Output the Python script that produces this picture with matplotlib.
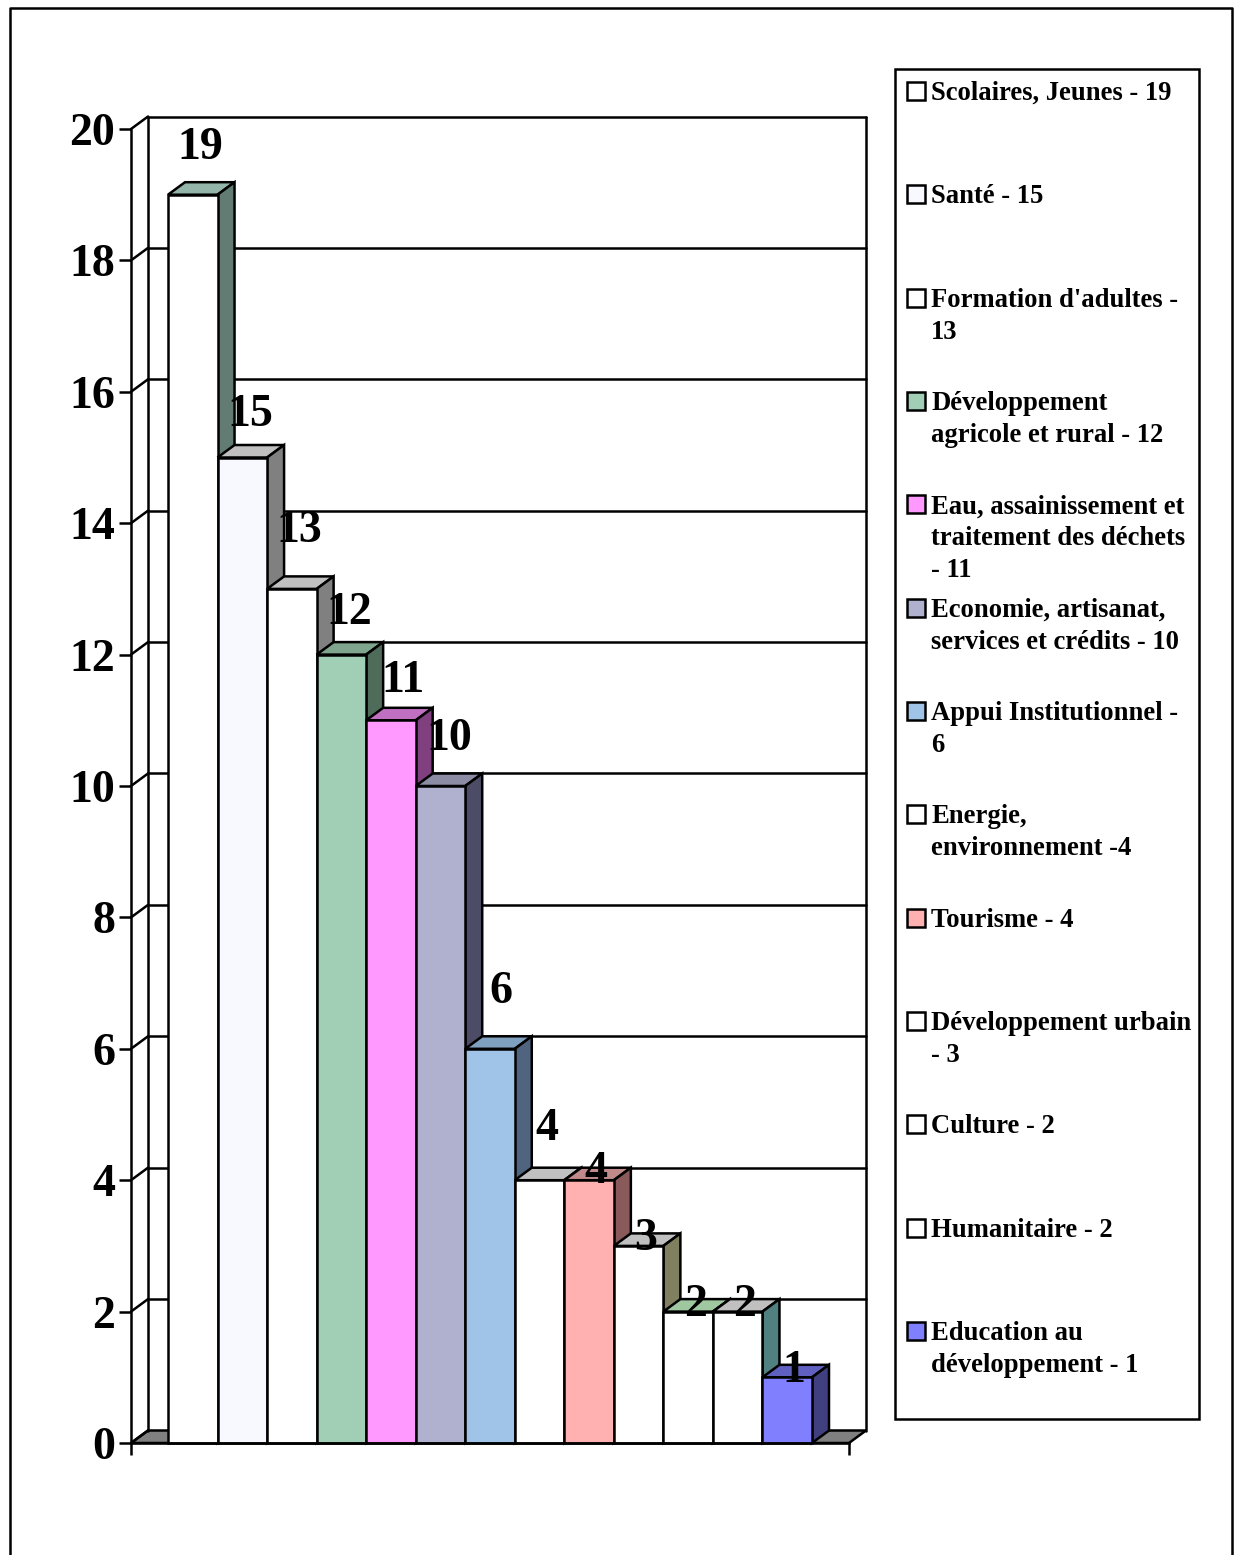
import matplotlib
matplotlib.use("Agg")
import matplotlib.pyplot as plt
from matplotlib.patches import Rectangle

plt.rcParams['font.family'] = ['Liberation Serif', 'DejaVu Serif']
plt.rcParams['font.weight'] = 'bold'

# chart data
labels = ["Scolaires, Jeunes - 19", "Santé - 15", "Formation d'adultes -\n13",
          "Développement\nagricole et rural - 12",
          "Eau, assainissement et\ntraitement des déchets\n- 11",
          "Economie, artisanat,\nservices et crédits - 10",
          "Appui Institutionnel -\n6", "Energie,\nenvironnement -4", "Tourisme - 4",
          "Développement urbain\n- 3", "Culture - 2", "Humanitaire - 2",
          "Education au\ndéveloppement - 1"]
values = [19, 15, 13, 12, 11, 10, 6, 4, 4, 3, 2, 2, 1]
y_ticks = [0, 2, 4, 6, 8, 10, 12, 14, 16, 18, 20]

# bar face colours
front_colors = ['#FFFFFF', '#F8F8FF', '#FFFFFF', '#A0CFB6', '#FF99FF', '#B0B0CF', '#A0C4E8',
                '#FFFFFF', '#FFB0B0', '#FFFFFF', '#FFFFFF', '#FFFFFF', '#8080FF']
top_colors = ['#93B5AA', '#C0C0C0', '#C0C0C0', '#7FA58F', '#C070C0', '#8C8CA5', '#80A0C0',
              '#C0C0C0', '#C08A8A', '#C0C0C0', '#A0C8A0', '#C0C0C0', '#6060C0']
side_colors = ['#637C73', '#808080', '#808080', '#4F6B5A', '#804080', '#4C4C66', '#506480',
               '#808080', '#8A5A5A', '#808060', '#608060', '#508080', '#404080']

# data label nudges in pixels, the original places them unevenly
label_dx = [7, 8, 7, 8, 12, 9, 11, 7, 7, 7, 7, 7, 7]
label_dy = [52, 47, 63, 47, 44, 52, 62, 56, 13, 12, 12, 12, 11]

W, H = 1234, 1555
LW = 1.8
fig = plt.figure(figsize=(W / 100, H / 100), dpi=100)

# overlay in pixels for page frame and legend box
page = fig.add_axes([0, 0, 1, 1])
page.set_xlim(0, W)
page.set_ylim(H, 0)
page.axis('off')
page.plot([10, 10, 1232, 1232], [H, 8, 8, H], color='black', lw=LW)
page.add_patch(Rectangle((895, 69), 304, 1350, fc='white', ec='black', lw=LW))

# legend
for i, (lab, col) in enumerate(zip(labels, front_colors)):
    yy = 91 + i * 103.33
    page.add_patch(Rectangle((907, yy - 9), 18, 18, fc=col, ec='black', lw=LW))
    for k, part in enumerate(lab.split('\n')):
        page.text(931, yy + 9 + k * 32, part, fontsize=19.2, va='baseline', ha='left')

# main chart, front plane spans 131..849 by 129..1443 in pixels
ax = fig.add_axes([131 / W, 1 - 1443 / H, 718 / W, 1314 / H])
ax.patch.set_alpha(0)
n = len(values)
px_x = 644 / n          # pixels per bar
px_y = 1314 / 20        # pixels per value unit
x_min, x_max = -37 / px_x, n + 37 / px_x
dx = 17 / px_x
dy = 12.5 / px_y


def line(xs, ys, z=2):
    ax.plot(xs, ys, color='black', lw=LW, clip_on=False, zorder=z, solid_capstyle='round')


# floor
ax.fill([x_min, x_max, x_max + dx, x_min + dx], [0, 0, dy, dy], fc='#808080', ec='black',
        lw=LW, clip_on=False, zorder=1)

# walls and gridlines
line([x_min + dx, x_min + dx], [dy, 20 + dy])
line([x_max + dx, x_max + dx], [dy, 20 + dy])
for t in y_ticks:
    line([x_min, x_min + dx], [t, t + dy])
    if t > 0:
        line([x_min + dx, x_max + dx], [t + dy, t + dy])

# bars go left to right so each front hides the neighbour's side
for i, v in enumerate(values):
    z = 3 + i
    ax.fill([i, i + 1, i + 1 + dx, i + dx], [v, v, v + dy, v + dy], fc=top_colors[i],
            ec='black', lw=LW, clip_on=False, zorder=z)
    ax.fill([i + 1, i + 1 + dx, i + 1 + dx, i + 1], [0, dy, v + dy, v], fc=side_colors[i],
            ec='black', lw=LW, clip_on=False, zorder=z)
    ax.fill([i, i + 1, i + 1, i], [0, 0, v, v], fc=front_colors[i], ec='black', lw=LW,
            clip_on=False, zorder=z + 0.5)

# data labels
for i, v in enumerate(values):
    ax.annotate(str(v), xy=(i + 0.5, v), xytext=(label_dx[i] * 0.72, label_dy[i] * 0.72),
                textcoords='offset points', ha='center', va='center_baseline', fontsize=33,
                fontweight='bold', zorder=30, annotation_clip=False)

ax.set_xlim(x_min, x_max)
ax.set_ylim(0, 20)
ax.set_yticks(y_ticks)
ax.set_xticks([x_min, x_max])
ax.set_xticklabels([])
ax.tick_params(axis='both', direction='out', length=8.6, width=LW, color='black', pad=3)
ax.tick_params(axis='y', labelsize=33)
for s in ['top', 'right']:
    ax.spines[s].set_visible(False)
for s in ['left', 'bottom']:
    ax.spines[s].set_linewidth(LW)
    ax.spines[s].set_zorder(25)

fig.savefig('out.png', dpi=100)
